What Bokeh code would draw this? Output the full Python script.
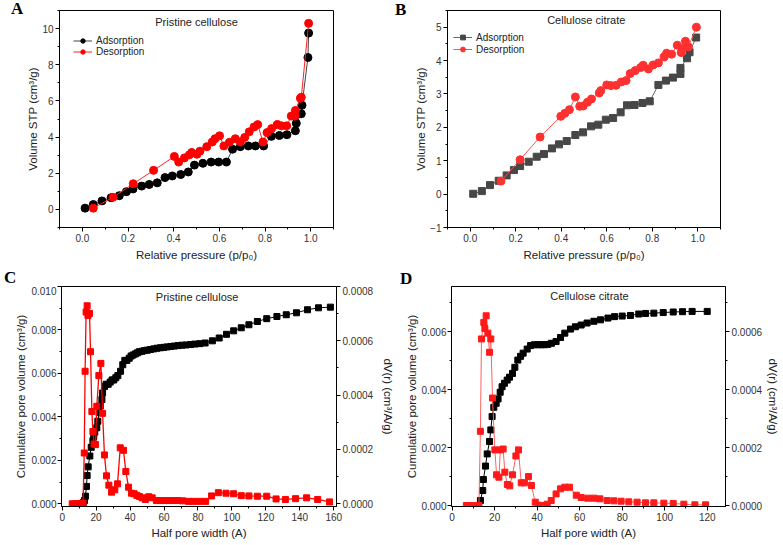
from bokeh.plotting import figure
from bokeh.layouts import column, row
from bokeh.models import (Range1d, LinearAxis, FixedTicker, PrintfTickFormatter, Label,
                          Legend, LegendItem, CustomJSTickFormatter, Div)
from bokeh.embed import file_html
from bokeh.resources import INLINE

# ---------------- data ----------------
# Panel A: Pristine cellulose isotherm
a_ads_x = [0.012, 0.048, 0.086, 0.126, 0.162, 0.193, 0.222, 0.260, 0.293, 0.328, 0.362, 0.394, 0.431,
           0.464, 0.491, 0.528, 0.564, 0.597, 0.631, 0.658, 0.692, 0.727, 0.758, 0.794, 0.828, 0.863,
           0.896, 0.933, 0.937, 0.959, 0.962, 0.988, 0.991]
a_ads_y = [0.07, 0.27, 0.47, 0.65, 0.76, 0.98, 1.13, 1.29, 1.38, 1.47, 1.76, 1.85, 1.93, 2.07, 2.45,
           2.55, 2.62, 2.62, 2.62, 3.33, 3.47, 3.51, 3.51, 3.51, 4.04, 4.09, 4.13, 4.35, 4.76, 5.29,
           5.76, 8.40, 9.75]
a_des_x = [0.048, 0.134, 0.223, 0.312, 0.403, 0.422, 0.447, 0.469, 0.479, 0.502, 0.515, 0.545, 0.569,
           0.581, 0.601, 0.620, 0.644, 0.670, 0.692, 0.711, 0.731, 0.752, 0.768, 0.791, 0.809, 0.829,
           0.854, 0.872, 0.895, 0.915, 0.931, 0.933, 0.955, 0.959, 0.991]
a_des_y = [0.07, 0.67, 1.42, 2.16, 2.93, 2.62, 2.85, 3.02, 3.15, 3.05, 3.22, 3.47, 3.73, 3.91, 4.07,
           3.51, 3.71, 3.91, 3.73, 3.98, 4.29, 4.56, 4.69, 3.73, 4.25, 4.47, 4.69, 4.62, 4.62, 5.16,
           5.16, 5.47, 6.15, 6.20, 10.29]

# Panel B: Cellulose citrate isotherm
b_ads_x = [0.013, 0.051, 0.087, 0.125, 0.160, 0.192, 0.219, 0.257, 0.292, 0.324, 0.359, 0.390, 0.424,
           0.462, 0.496, 0.531, 0.563, 0.596, 0.628, 0.661, 0.689, 0.722, 0.757, 0.789, 0.827, 0.860,
           0.891, 0.924, 0.924, 0.953, 0.964, 0.993]
b_ads_y = [0.01, 0.09, 0.27, 0.40, 0.56, 0.72, 0.84, 0.97, 1.12, 1.20, 1.37, 1.49, 1.59, 1.77, 1.85,
           2.03, 2.08, 2.23, 2.28, 2.45, 2.66, 2.67, 2.73, 2.78, 3.27, 3.40, 3.49, 3.60, 3.78, 4.07,
           4.25, 4.69]
b_des_x = [0.135, 0.219, 0.307, 0.398, 0.416, 0.436, 0.462, 0.481, 0.496, 0.515, 0.533, 0.567, 0.574,
           0.600, 0.618, 0.641, 0.664, 0.685, 0.703, 0.725, 0.749, 0.760, 0.783, 0.804, 0.827, 0.852,
           0.863, 0.885, 0.910, 0.927, 0.932, 0.946, 0.959, 0.994]
b_des_y = [0.39, 1.03, 1.71, 2.33, 2.42, 2.53, 2.91, 2.63, 2.64, 2.75, 2.85, 3.03, 3.10, 3.27, 3.25,
           3.26, 3.36, 3.40, 3.61, 3.70, 3.79, 3.86, 3.75, 3.87, 3.93, 4.11, 4.22, 4.19, 4.46, 4.24,
           4.36, 4.58, 4.41, 5.00]

# Panel C: Pristine cellulose pore distribution
c_cum_x = [12.4, 13.1, 13.7, 14.3, 14.7, 15.3, 16.3, 17.1, 18.1, 18.6, 19.2, 20.4, 21.0, 21.8, 22.4,
           23.4, 23.8, 24.9, 25.9, 27.1, 28.3, 29.4, 30.4, 31.6, 32.8, 34.4, 35.7, 36.9, 38.1, 39.5,
           40.6, 41.8, 43.2, 44.4, 45.5, 47.0, 48.5, 50.1, 52.0, 54.0, 55.9, 57.9, 59.9, 61.8, 64.0,
           66.1, 68.3, 70.6, 73.0, 75.6, 78.1, 81.1, 84.2, 88.5, 92.5, 96.8, 101.0, 105.5, 110.0,
           115.0, 120.5, 126.5, 132.0, 138.0, 144.5, 151.0, 158.0]
c_cum_y = [0.00006, 0.00015, 0.00035, 0.0008, 0.0013, 0.0017, 0.0022, 0.0026, 0.0029, 0.0031, 0.0033,
           0.0035, 0.0038, 0.0042, 0.0045, 0.0048, 0.0051, 0.0054, 0.0055, 0.0055, 0.0056, 0.0057,
           0.0057, 0.0058, 0.0059, 0.0061, 0.0064, 0.0066, 0.0066, 0.0067,
           0.0068, 0.00685, 0.0069, 0.00695, 0.0070, 0.00702, 0.00705, 0.00707, 0.0071, 0.00713,
           0.00716, 0.00718, 0.0072, 0.00722, 0.00724, 0.00726, 0.00728, 0.0073, 0.00731, 0.00733,
           0.00735, 0.00737, 0.0074, 0.0075, 0.00763, 0.0078, 0.00796, 0.0081, 0.00824, 0.00839,
           0.00852, 0.00862, 0.0087, 0.00879, 0.00893, 0.00902, 0.00905]
c_dv_x = [5.9, 7.9, 9.2, 10.8, 12.3, 13.0, 13.5, 14.1, 14.7, 15.2, 16.1, 16.7, 17.5, 18.1, 18.8, 19.6,
          20.4, 21.6, 22.8, 23.8, 24.9, 26.1, 27.5, 29.1, 31.0, 32.6, 34.2, 36.1, 37.5, 39.1,
          40.8, 42.4, 44.0, 45.5, 47.1, 49.0, 51.0, 53.0, 55.5, 58.0, 60.5, 63.0, 65.5, 68.0, 71.0,
          74.5, 77.5, 81.0, 84.5, 88.0, 92.0, 96.5, 101.0, 105.5, 110.0, 115.0, 120.5, 126.0, 131.5,
          137.5, 144.0, 150.5, 157.5]
c_dv_y = [0.0, 0.0, 0.0, 0.0, 0.000003, 0.000187, 0.000488, 0.000706, 0.000729, 0.000693, 0.000701,
          0.00056, 0.00034, 0.000266, 0.00022, 0.000218, 0.000359, 0.000472, 0.000517, 0.000333,
          0.00018, 0.000103, 0.0000686, 0.0000429, 0.0000515, 0.0000735, 0.000206, 0.000197,
          0.000119, 0.0000613,
          0.000039, 0.000037, 0.000031, 0.000027, 0.000022, 0.000016, 0.000026, 0.000022, 0.000012,
          0.000012, 0.000012, 0.000012, 0.000012, 0.000012, 0.000011, 0.000009, 0.000009, 0.000009,
          0.000009, 0.000029, 0.000041, 0.000039, 0.000037, 0.00003, 0.000029, 0.000028, 0.000028,
          0.000018, 0.000016, 0.000019, 0.000022, 0.000016, 0.000007]

# Panel D: Cellulose citrate pore distribution
d_cum_x = [13.3, 14.4, 14.7, 15.7, 16.5, 17.6, 18.2, 18.8, 19.6, 20.7, 21.6, 22.6, 23.5, 24.6, 25.9,
           27.0, 28.4, 29.5, 30.9, 32.2, 33.4, 35.3, 36.9, 38.7, 40.3, 41.9, 43.5, 45.0, 46.7, 48.9,
           51.0, 53.0, 55.7, 58.0, 60.7, 63.5, 66.7, 69.8, 73.3, 76.4, 80.0, 83.9, 87.8, 91.0, 94.9,
           99.3, 104.0, 108.4, 112.9, 120.0]
d_cum_y = [0.000172, 0.000517, 0.000897, 0.00136, 0.00178, 0.00221, 0.00261, 0.00307, 0.00339,
           0.00353, 0.00368, 0.00391, 0.0041, 0.00422, 0.00433, 0.00443, 0.00456, 0.00477, 0.00502,
           0.00515, 0.00526, 0.0054, 0.00552, 0.00555, 0.00555, 0.00555, 0.00555, 0.00556, 0.0056,
           0.00566, 0.0058, 0.00595, 0.00609, 0.00617, 0.00623, 0.0063, 0.00636, 0.00641, 0.00647,
           0.00652, 0.00654, 0.00656, 0.00661, 0.00663, 0.00664, 0.00666, 0.00668, 0.00669, 0.0067,
           0.0067]
d_dv_x = [6.7, 8.0, 9.3, 10.5, 11.6, 12.6, 13.3, 13.8, 14.9, 15.4, 16.0, 16.8, 17.6, 18.2, 19.0,
          20.1, 20.9, 22.0, 22.7, 24.0, 24.8, 26.0, 27.1, 28.4, 30.0, 31.2, 32.5, 34.0, 35.9, 37.3,
          39.1, 40.6, 42.4, 44.7, 46.6, 48.9, 51.0, 53.0, 55.2, 58.4, 60.7, 63.8, 66.7, 69.5, 72.9,
          76.1, 79.5, 83.1, 87.0, 91.0, 94.9, 99.6, 104.0, 109.0, 114.2, 119.2]
d_dv_y = [0.0, 0.0, 0.0, 0.0, 0.0, 0.0, 0.000256, 0.000575, 0.000632, 0.000611, 0.000655, 0.000595,
          0.000529, 0.000575, 0.000371, 0.000192, 0.000106, 0.0000977, 0.000192, 0.000195, 0.000115,
          0.0000724, 0.0000678, 0.000106, 0.000171, 0.000192, 0.0000782, 0.0000782, 0.0001,
          0.000069, 0.0000115, 0.0000011, 0.0, 0.0000046, 0.0000172, 0.00004, 0.0000575, 0.0000632,
          0.0000632, 0.0000356, 0.0000276, 0.0000253, 0.0000253, 0.000023, 0.0000172, 0.0000161,
          0.0000149, 0.0000126, 0.0000115, 0.0000092, 0.0000092, 0.000008, 0.0000069, 0.0000046,
          0.0000023, 0.0000023]

# tick positions
iso_x_ticks = [0.0, 0.2, 0.4, 0.6, 0.8, 1.0]
iso_x_minor = [-0.1, 0.1, 0.3, 0.5, 0.7, 0.9, 1.1]
a_y_ticks = [0, 2, 4, 6, 8, 10]
a_y_minor = [-1, 1, 3, 5, 7, 9, 11]
b_y_ticks = [-1, 0, 1, 2, 3, 4, 5]
b_y_minor = [-0.5, 0.5, 1.5, 2.5, 3.5, 4.5, 5.5]
c_x_ticks = [0, 20, 40, 60, 80, 100, 120, 140, 160]
c_x_minor = [10, 30, 50, 70, 90, 110, 130, 150]
c_y_ticks = [0.0, 0.002, 0.004, 0.006, 0.008, 0.010]
c_y_minor = [0.001, 0.003, 0.005, 0.007, 0.009]
c_r_ticks = [0.0, 0.0002, 0.0004, 0.0006, 0.0008]
c_r_minor = [0.0001, 0.0003, 0.0005, 0.0007]
d_x_ticks = [0, 20, 40, 60, 80, 100, 120]
d_x_minor = [10, 30, 50, 70, 90, 110]
d_y_ticks = [0.0, 0.002, 0.004, 0.006]
d_y_minor = [0.001, 0.003, 0.005, 0.007]
d_r_ticks = [0.0, 0.0002, 0.0004, 0.0006]
d_r_minor = [0.0001, 0.0003, 0.0005, 0.0007]

FONT = "Liberation Sans"
SERIF = "Liberation Serif"


def style_axis(ax, ticks, minor, fmt, label, label_standoff, tick_standoff=2):
    ax.ticker = FixedTicker(ticks=ticks, minor_ticks=minor)
    ax.formatter = fmt
    ax.axis_label = label
    ax.major_tick_in = 0
    ax.major_tick_out = 4
    ax.minor_tick_in = 0
    ax.minor_tick_out = 2
    ax.axis_line_color = "black"
    ax.major_tick_line_color = "black"
    ax.minor_tick_line_color = "black"
    ax.major_label_text_font = FONT
    ax.major_label_text_font_size = "10px"
    ax.major_label_text_color = "#333333"
    ax.major_label_standoff = tick_standoff
    ax.axis_label_text_font = FONT
    ax.axis_label_text_font_size = "11.5px"
    ax.axis_label_text_font_style = "normal"
    ax.axis_label_text_color = "#222222"
    ax.axis_label_standoff = label_standoff


def make_fig(w, h, xr, yr, left, right, top, bottom):
    p = figure(width=w, height=h, x_range=Range1d(*xr), y_range=Range1d(*yr),
               output_backend="svg", toolbar_location=None,
               min_border_left=left, min_border_right=right,
               min_border_top=top, min_border_bottom=bottom)
    p.xgrid.visible = False
    p.ygrid.visible = False
    p.outline_line_color = "black"
    p.outline_line_alpha = 1.0
    p.background_fill_color = "white"
    p.border_fill_color = "white"
    return p


def letter_div(txt, w, h, pad_left, pad_top, line_h=18):
    html = ('<div style="font-family:\'Liberation Serif\',serif;font-weight:bold;font-size:17px;'
            'line-height:%dpx;padding-left:%dpx;padding-top:%dpx;color:black;margin:0;">%s</div>'
            % (line_h, pad_left, pad_top, txt))
    return Div(text=html, width=w, height=h, margin=(0, 0, 0, 0))


def add_title(p, txt, x, y):
    p.add_layout(Label(x=x, y=y, text=txt, text_font=FONT, text_font_size="11px",
                       text_align="center", text_baseline="middle", text_color="#222222"))


minus_fmt = CustomJSTickFormatter(code="return tick < 0 ? '\\u2212' + Math.abs(tick) : String(tick);")

# ---------------- Panel A ----------------
pA = make_fig(367, 270, (-0.1, 1.1), (-1, 11), 36, 57, 10, 41)
style_axis(pA.xaxis[0], iso_x_ticks, iso_x_minor, PrintfTickFormatter(format="%.1f"),
           "Relative pressure (p/p\u2080)", 4)
style_axis(pA.yaxis[0], a_y_ticks, a_y_minor, PrintfTickFormatter(format="%d"),
           "Volume STP (cm\u00b3/g)", 0)
la1 = pA.line(a_ads_x, a_ads_y, line_color="#444444", line_width=1)
sa1 = pA.scatter(a_ads_x, a_ads_y, marker="circle", size=8, fill_color="black", line_color="black")
la2 = pA.line(a_des_x, a_des_y, line_color="#ff2020", line_width=1)
sa2 = pA.scatter(a_des_x, a_des_y, marker="circle", size=8, fill_color="#ff0000", line_color="#ff0000")
legA = Legend(items=[LegendItem(label="Adsorption", renderers=[la1, sa1]),
                     LegendItem(label="Desorption", renderers=[la2, sa2])],
              location=(14, 170), border_line_color=None, background_fill_alpha=0,
              label_text_font=FONT, label_text_font_size="10px", label_text_color="#222222",
              glyph_width=19, glyph_height=11, label_height=11, label_standoff=4,
              spacing=0, padding=0, margin=0)
pA.add_layout(legA)
add_title(pA, "Pristine cellulose", 0.5, 10.34)

# ---------------- Panel B ----------------
pB = make_fig(375, 270, (-0.1, 1.1), (-1, 5.5), 39, 63, 7, 43)
style_axis(pB.xaxis[0], iso_x_ticks, iso_x_minor, PrintfTickFormatter(format="%.1f"),
           "Relative pressure (p/p\u2080)", 4)
style_axis(pB.yaxis[0], b_y_ticks, b_y_minor, minus_fmt, "Volume STP (cm\u00b3/g)", 0)
lb1 = pB.line(b_ads_x, b_ads_y, line_color="#666666", line_width=1)
sb1 = pB.scatter(b_ads_x, b_ads_y, marker="square", size=7, fill_color="#474747", line_color="#474747")
lb2 = pB.line(b_des_x, b_des_y, line_color="#ff5050", line_width=1)
sb2 = pB.scatter(b_des_x, b_des_y, marker="circle", size=8, fill_color="#ff3030", line_color="#ff3030")
legB = Legend(items=[LegendItem(label="Adsorption", renderers=[lb1, sb1]),
                     LegendItem(label="Desorption", renderers=[lb2, sb2])],
              location=(6, 172), border_line_color=None, background_fill_alpha=0,
              label_text_font=FONT, label_text_font_size="10px", label_text_color="#222222",
              glyph_width=19, glyph_height=12, label_height=12, label_standoff=4,
              spacing=0, padding=0, margin=0)
pB.add_layout(legB)
add_title(pB, "Cellulose citrate", 0.51, 5.23)

# ---------------- Panel C ----------------
pC = make_fig(400, 259, (-0.4, 161.6), (-0.000124, 0.010), 61, 64, 0, 39)
style_axis(pC.xaxis[0], c_x_ticks, c_x_minor, PrintfTickFormatter(format="%d"),
           "Half pore width (A)", 3)
style_axis(pC.yaxis[0], c_y_ticks, c_y_minor, PrintfTickFormatter(format="%.3f"),
           "Cumulative pore volume (cm\u00b3/g)", 1, tick_standoff=1)
pC.extra_y_ranges = {"r": Range1d(-0.0000099, 0.0008)}
axCr = LinearAxis(y_range_name="r")
style_axis(axCr, c_r_ticks, c_r_minor, PrintfTickFormatter(format="%.4f"),
           "dV(r) (cm\u00b3/A/g)", 6)
pC.add_layout(axCr, "right")
pC.line(c_cum_x, c_cum_y, line_color="black", line_width=1)
pC.scatter(c_cum_x, c_cum_y, marker="square", size=6, fill_color="black", line_color="black")
pC.line(c_dv_x, c_dv_y, y_range_name="r", line_color="#ff0000", line_width=1.3)
pC.scatter(c_dv_x, c_dv_y, y_range_name="r", marker="square", size=6, fill_color="#ff0000",
           line_color="#ff0000")
add_title(pC, "Pristine cellulose", 79.5, 0.00953)

# ---------------- Panel D ----------------
pD = make_fig(383, 259, (-0.3, 128.6), (-0.0000345, 0.00756), 51, 58, 0, 39)
style_axis(pD.xaxis[0], d_x_ticks, d_x_minor, PrintfTickFormatter(format="%d"),
           "Half pore width (A)", 3)
style_axis(pD.yaxis[0], d_y_ticks, d_y_minor, PrintfTickFormatter(format="%.3f"),
           "Cumulative pore volume (cm\u00b3/g)", 0, tick_standoff=1)
pD.extra_y_ranges = {"r": Range1d(-0.00000345, 0.000756)}
axDr = LinearAxis(y_range_name="r")
style_axis(axDr, d_r_ticks, d_r_minor, PrintfTickFormatter(format="%.4f"),
           "dV(r) (cm\u00b3/A/g)", 2)
pD.add_layout(axDr, "right")
pD.line(d_cum_x, d_cum_y, line_color="black", line_width=1)
pD.scatter(d_cum_x, d_cum_y, marker="square", size=6, fill_color="black", line_color="black")
pD.line(d_dv_x, d_dv_y, y_range_name="r", line_color="#ff6060", line_width=1)
pD.scatter(d_dv_x, d_dv_y, y_range_name="r", marker="square", size=6, fill_color="#ff1a1a",
           line_color="#ff1a1a")
add_title(pD, "Cellulose citrate", 64.6, 0.00724)

# panel letters (HTML text) beside / above each panel
dA = letter_div("A", 23, 270, 11, 0)
dB = letter_div("B", 18, 270, 5, 1)
dC = letter_div("C", 400, 16, 4, 0, 16)
dD = letter_div("D", 383, 16, 0, 1, 16)

layout = column(row(dA, pA, dB, pB), row(column(dC, pC), column(dD, pD)))
open("out.html", "w").write(file_html(layout, INLINE))
